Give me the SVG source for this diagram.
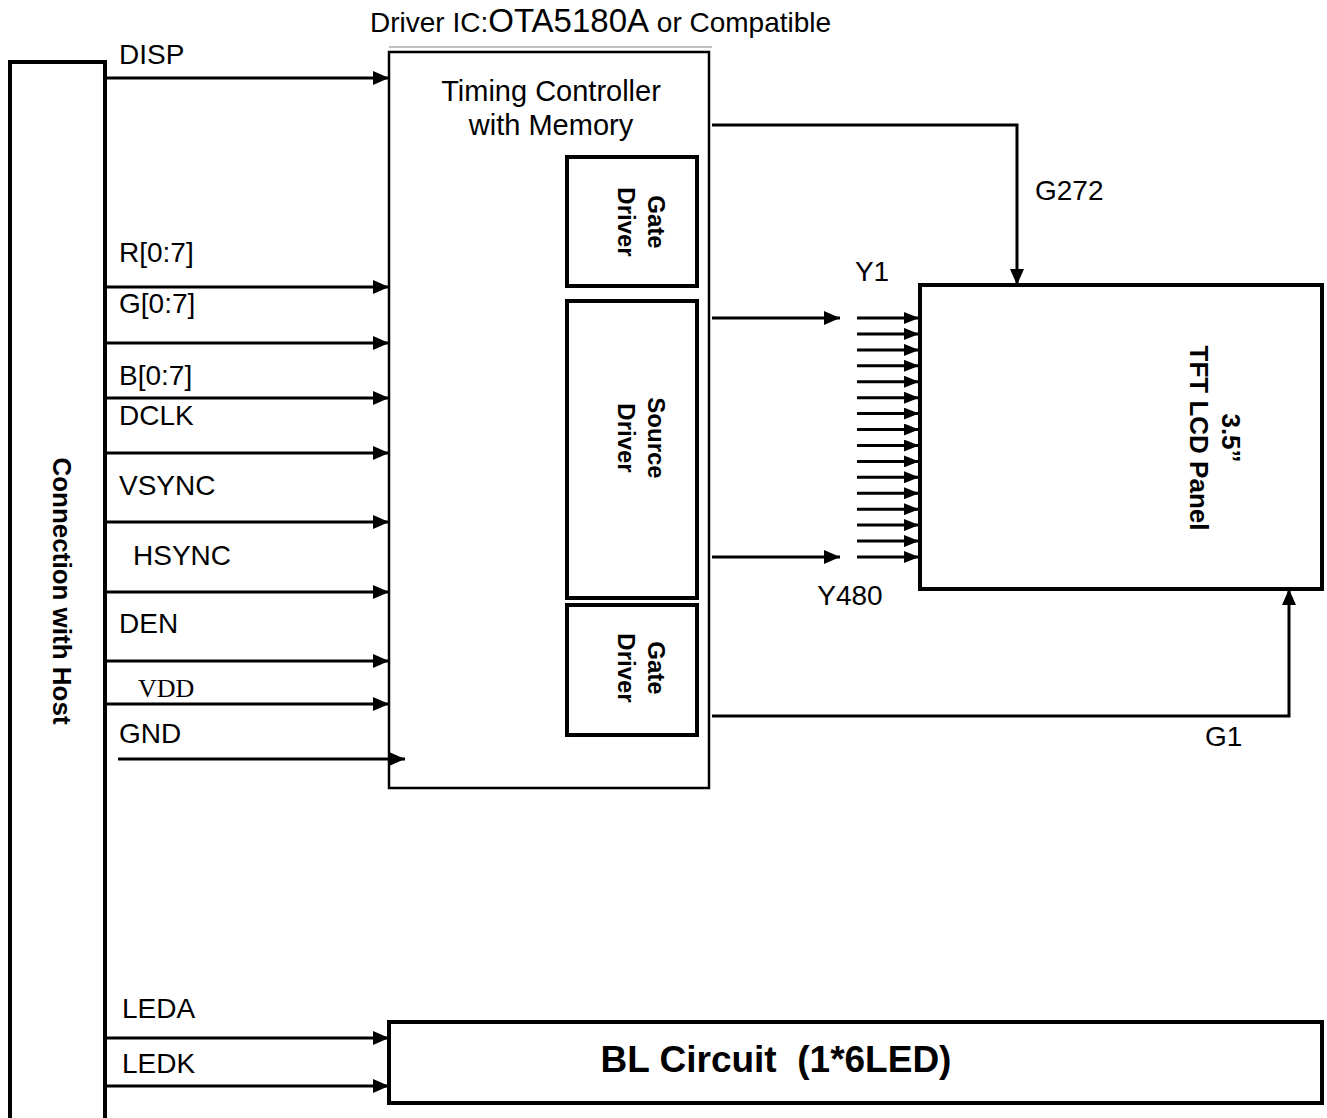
<svg xmlns="http://www.w3.org/2000/svg" width="1327" height="1118" viewBox="0 0 1327 1118">
<defs>
<marker id="ah" viewBox="0 0 16 14" refX="16" refY="7" markerWidth="16" markerHeight="14" markerUnits="userSpaceOnUse" orient="auto">
<path d="M0,0 L16,7 L0,14 z" fill="#000"/>
</marker>
<marker id="as" viewBox="0 0 15 12" refX="15" refY="6" markerWidth="15" markerHeight="12" markerUnits="userSpaceOnUse" orient="auto">
<path d="M0,0 L15,6 L0,12 z" fill="#000"/>
</marker>
</defs>
<style>
text{font-family:"Liberation Sans",Arial,sans-serif;fill:#000}
text.serif{font-family:"Liberation Serif","Times New Roman",serif;font-size:26px}
.lb{font-size:28px}
.rt{font-size:24px;font-weight:bold;text-anchor:middle}
.ln{stroke:#000;stroke-width:3;fill:none}
.box{fill:#fff;stroke:#000;stroke-width:4}
</style>
<rect width="1327" height="1118" fill="#fff"/>

<g id="title">
<text x="370" y="32" font-size="28">Driver IC:<tspan font-size="33">OTA5180A</tspan> or Compatible</text>
<line x1="389" y1="47" x2="712" y2="47" stroke="#aaa" stroke-width="1.5"/>
</g>

<g id="host">
<rect x="10" y="62" width="95" height="1070" class="box"/>
<text transform="translate(53,591) rotate(90)" x="0" y="0" font-size="26" font-weight="bold" text-anchor="middle">Connection with Host</text>
</g>

<g id="driver-ic">
<rect x="389" y="52" width="320" height="736" fill="#fff" stroke="#000" stroke-width="2.5"/>
<text x="551" y="101" font-size="29" text-anchor="middle">Timing Controller</text>
<text x="551" y="135" font-size="29" text-anchor="middle">with Memory</text>
</g>

<g id="gate-driver-top">
<rect x="567" y="157" width="130" height="129" class="box"/>
<text transform="translate(638,222) rotate(90)" class="rt"><tspan x="0" y="-10">Gate</tspan><tspan x="0" y="20">Driver</tspan></text>
</g>

<g id="source-driver">
<rect x="567" y="301" width="130" height="297" class="box"/>
<text transform="translate(638,438) rotate(90)" class="rt"><tspan x="0" y="-10">Source</tspan><tspan x="0" y="20">Driver</tspan></text>
</g>

<g id="gate-driver-bottom">
<rect x="567" y="605" width="130" height="130" class="box"/>
<text transform="translate(638,668) rotate(90)" class="rt"><tspan x="0" y="-10">Gate</tspan><tspan x="0" y="20">Driver</tspan></text>
</g>

<g id="tft-panel">
<rect x="920" y="285" width="402" height="304" class="box"/>
<text transform="translate(1190,438) rotate(90)" font-size="26" font-weight="bold" text-anchor="middle"><tspan x="0" y="-32">3.5”</tspan><tspan x="0" y="0">TFT LCD Panel</tspan></text>
</g>

<g id="bl-circuit">
<rect x="389" y="1022" width="933" height="81" class="box"/>
<text x="776" y="1072" font-size="37" font-weight="bold" text-anchor="middle">BL Circuit&#160; (1*6LED)</text>
</g>

<g id="labels">
<text x="119" y="64" class="lb">DISP</text>
<text x="119" y="262" class="lb">R[0:7]</text>
<text x="119" y="313" class="lb">G[0:7]</text>
<text x="119" y="385" class="lb">B[0:7]</text>
<text x="119" y="425" class="lb">DCLK</text>
<text x="119" y="495" class="lb">VSYNC</text>
<text x="133" y="565" class="lb">HSYNC</text>
<text x="119" y="633" class="lb">DEN</text>
<text x="138" y="697" class="serif">VDD</text>
<text x="119" y="743" class="lb">GND</text>
<text x="122" y="1018" class="lb">LEDA</text>
<text x="122" y="1073" class="lb">LEDK</text>
<text x="872" y="281" class="lb" text-anchor="middle">Y1</text>
<text x="850" y="605" class="lb" text-anchor="middle">Y480</text>
<text x="1035" y="200" class="lb">G272</text>
<text x="1205" y="746" class="lb">G1</text>
</g>

<g id="connectors" class="ln">
<line x1="105" y1="78" x2="389" y2="78" marker-end="url(#ah)"/>
<line x1="105" y1="287" x2="389" y2="287" marker-end="url(#ah)"/>
<line x1="105" y1="343" x2="389" y2="343" marker-end="url(#ah)"/>
<line x1="105" y1="398" x2="389" y2="398" marker-end="url(#ah)"/>
<line x1="105" y1="453" x2="389" y2="453" marker-end="url(#ah)"/>
<line x1="105" y1="522" x2="389" y2="522" marker-end="url(#ah)"/>
<line x1="105" y1="592" x2="389" y2="592" marker-end="url(#ah)"/>
<line x1="105" y1="661" x2="389" y2="661" marker-end="url(#ah)"/>
<line x1="105" y1="704" x2="389" y2="704" marker-end="url(#ah)"/>
<line x1="118" y1="759" x2="405" y2="759" marker-end="url(#ah)"/>
<line x1="105" y1="1038" x2="389" y2="1038" marker-end="url(#ah)"/>
<line x1="105" y1="1086" x2="389" y2="1086" marker-end="url(#ah)"/>
<polyline points="712,125 1017,125 1017,285" marker-end="url(#ah)"/>
<polyline points="712,716 1289,716 1289,589" marker-end="url(#ah)"/>
<line x1="712" y1="318" x2="840" y2="318" marker-end="url(#ah)"/>
<line x1="712" y1="557" x2="840" y2="557" marker-end="url(#ah)"/>
<line x1="857" y1="318" x2="919" y2="318" marker-end="url(#as)"/>
<line x1="857" y1="333.9" x2="919" y2="333.9" marker-end="url(#as)"/>
<line x1="857" y1="349.9" x2="919" y2="349.9" marker-end="url(#as)"/>
<line x1="857" y1="365.8" x2="919" y2="365.8" marker-end="url(#as)"/>
<line x1="857" y1="381.7" x2="919" y2="381.7" marker-end="url(#as)"/>
<line x1="857" y1="397.7" x2="919" y2="397.7" marker-end="url(#as)"/>
<line x1="857" y1="413.6" x2="919" y2="413.6" marker-end="url(#as)"/>
<line x1="857" y1="429.5" x2="919" y2="429.5" marker-end="url(#as)"/>
<line x1="857" y1="445.5" x2="919" y2="445.5" marker-end="url(#as)"/>
<line x1="857" y1="461.4" x2="919" y2="461.4" marker-end="url(#as)"/>
<line x1="857" y1="477.3" x2="919" y2="477.3" marker-end="url(#as)"/>
<line x1="857" y1="493.3" x2="919" y2="493.3" marker-end="url(#as)"/>
<line x1="857" y1="509.2" x2="919" y2="509.2" marker-end="url(#as)"/>
<line x1="857" y1="525.1" x2="919" y2="525.1" marker-end="url(#as)"/>
<line x1="857" y1="541.1" x2="919" y2="541.1" marker-end="url(#as)"/>
<line x1="857" y1="557" x2="919" y2="557" marker-end="url(#as)"/>
</g>
</svg>
